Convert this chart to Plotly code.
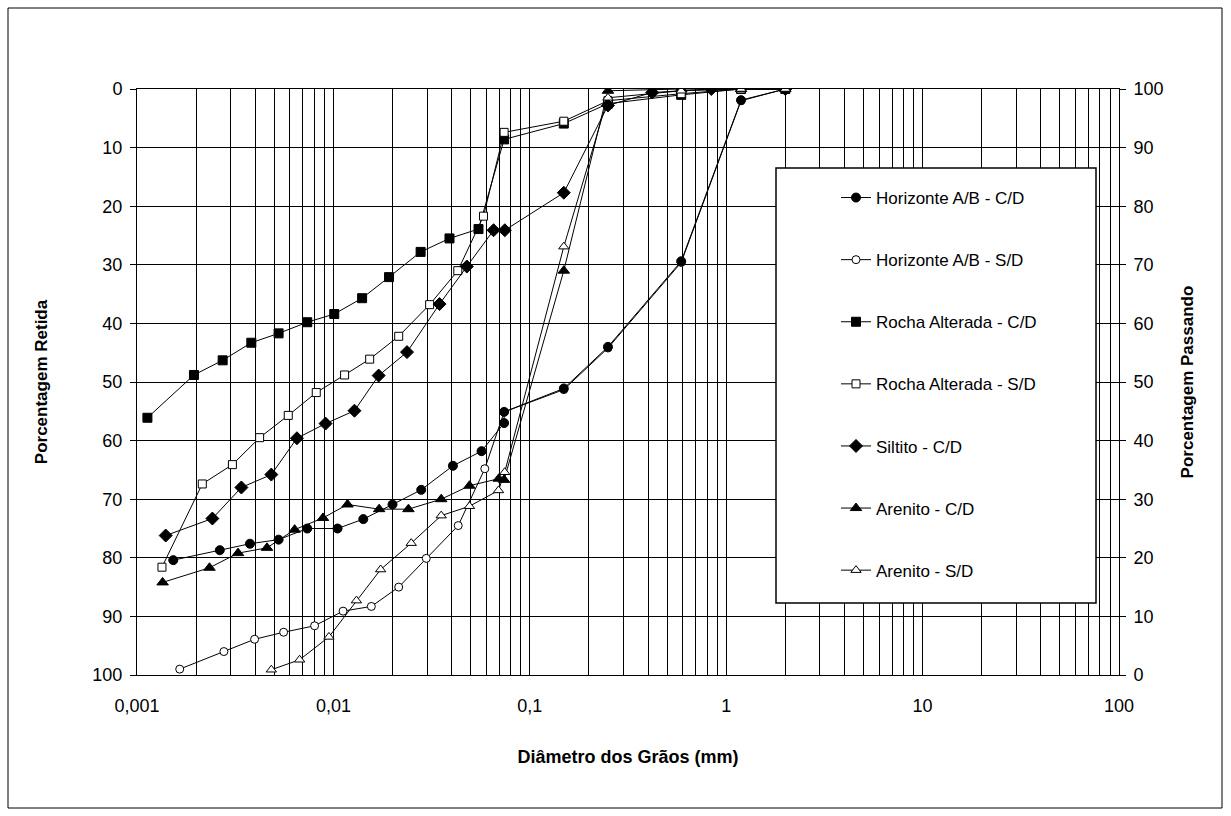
import plotly.graph_objects as go

# ---------------- data ----------------
hor_cd_x = [0.00153, 0.00264, 0.00376, 0.00526, 0.00736, 0.0105, 0.0142, 0.0200, 0.0280, 0.0406, 0.0568, 0.074, 0.074, 0.149, 0.25, 0.59, 1.19, 2.0]
hor_cd_y = [80.4, 78.7, 77.6, 76.9, 75.0, 75.0, 73.4, 70.9, 68.4, 64.3, 61.8, 57.0, 55.1, 51.1, 44.0, 29.4, 1.9, 0.0]

hor_sd_x = [0.00165, 0.00277, 0.00397, 0.00558, 0.00802, 0.0112, 0.0156, 0.0215, 0.0297, 0.0432, 0.059, 0.074, 0.149, 0.25, 0.59, 1.19, 2.0]
hor_sd_y = [99.0, 96.0, 93.9, 92.7, 91.6, 89.1, 88.3, 85.0, 80.1, 74.5, 64.8, 55.1, 51.3, 44.2, 29.6, 2.0, 0.0]

rocha_cd_x = [0.00113, 0.00195, 0.00273, 0.00382, 0.00526, 0.00736, 0.0101, 0.0140, 0.0192, 0.0278, 0.039, 0.0548, 0.074, 0.149, 0.25, 0.59, 1.19, 2.0]
rocha_cd_y = [56.1, 48.8, 46.3, 43.3, 41.7, 39.8, 38.4, 35.7, 32.1, 27.8, 25.5, 23.9, 8.6, 5.9, 2.5, 1.0, 0.0, 0.0]

rocha_sd_x = [0.00134, 0.00215, 0.00306, 0.00421, 0.00589, 0.00818, 0.0114, 0.0153, 0.0215, 0.0309, 0.0430, 0.0581, 0.074, 0.149, 0.25, 0.59, 1.19, 2.0]
rocha_sd_y = [81.6, 67.4, 64.1, 59.5, 55.7, 51.8, 48.8, 46.1, 42.2, 36.8, 31.0, 21.7, 7.4, 5.5, 2.0, 0.8, 0.0, 0.0]

siltito_x = [0.00140, 0.00242, 0.00340, 0.00483, 0.00652, 0.00912, 0.0128, 0.0170, 0.0237, 0.0347, 0.0478, 0.0654, 0.0746, 0.149, 0.25, 0.42, 0.84, 2.0]
siltito_y = [76.2, 73.3, 68.0, 65.8, 59.6, 57.1, 54.9, 48.9, 44.9, 36.7, 30.3, 24.1, 24.1, 17.7, 2.8, 0.6, 0.0, 0.0]

arenito_cd_x = [0.00135, 0.00234, 0.00327, 0.00459, 0.00635, 0.00885, 0.0118, 0.0171, 0.0241, 0.0354, 0.0493, 0.0695, 0.074, 0.149, 0.25, 0.59, 1.19, 2.0]
arenito_cd_y = [84.2, 81.7, 79.2, 78.3, 75.2, 73.2, 70.9, 71.7, 71.7, 70.0, 67.7, 66.5, 66.7, 31.0, 0.3, 0.0, 0.0, 0.0]

arenito_sd_x = [0.00483, 0.00673, 0.00949, 0.0131, 0.0174, 0.0249, 0.0354, 0.0493, 0.0693, 0.0745, 0.149, 0.25, 0.59, 1.19, 2.0]
arenito_sd_y = [99.1, 97.4, 93.5, 87.3, 82.0, 77.5, 72.8, 71.2, 68.5, 65.4, 26.9, 1.5, 0.3, 0.0, 0.0]

x_tickvals = [0.001, 0.01, 0.1, 1, 10, 100]
x_ticktext = ["0,001", "0,01", "0,1", "1", "10", "100"]
minor_vals = [m * 10.0 ** e for e in range(-3, 2) for m in range(2, 10)]

FONT = "Arial, 'Liberation Sans', sans-serif"

fig = go.Figure()


def add(name, x, y, symbol, fill, size, rank):
    fig.add_trace(go.Scatter(
        x=x, y=y, name=name, mode="lines+markers",
        line=dict(color="black", width=1),
        marker=dict(symbol=symbol, size=size, color=fill,
                    line=dict(color="black", width=1)),
        legendgroup=name, legendrank=rank,
    ))


# drawing order (later on top); legend order controlled by legendrank
add("Horizonte A/B - S/D", hor_sd_x, hor_sd_y, "circle", "white", 8, 2)
add("Horizonte A/B - C/D", hor_cd_x, hor_cd_y, "circle", "black", 9, 1)
add("Rocha Alterada - C/D", rocha_cd_x, rocha_cd_y, "square", "black", 9, 3)
add("Rocha Alterada - S/D", rocha_sd_x, rocha_sd_y, "square", "white", 8, 4)
add("Siltito - C/D", siltito_x, siltito_y, "diamond", "black", 10, 5)
add("Arenito - C/D", arenito_cd_x, arenito_cd_y, "triangle-up", "black", 10, 6)
add("Arenito - S/D", arenito_sd_x, arenito_sd_y, "triangle-up", "white", 9, 7)

# empty trace so the secondary (right) axis is drawn
fig.add_trace(go.Scatter(x=[], y=[], yaxis="y2", showlegend=False,
                         hoverinfo="skip", mode="lines"))

# plot area: x 137..1119, y 89..675
L, R, T, B = 137, 1119, 89, 675
W, H = 1231, 816


def px(xp):
    return (xp - L) / (R - L)


def py(yp):
    return (B - yp) / (B - T)


fig.update_layout(
    width=W, height=H,
    margin=dict(l=L, r=W - R, t=T, b=H - B),
    paper_bgcolor="white", plot_bgcolor="white",
    font=dict(family=FONT, color="black", size=18),
    showlegend=True,
    legend=dict(
        x=px(836), xanchor="left", y=py(180), yanchor="top",
        bgcolor="rgba(0,0,0,0)", borderwidth=0,
        font=dict(size=17, family=FONT, color="black"),
        tracegroupgap=37,
    ),
    xaxis=dict(
        type="log", range=[-3, 2],
        tickvals=x_tickvals, ticktext=x_ticktext,
        ticks="", showgrid=True, gridcolor="black", gridwidth=1,
        minor=dict(tickvals=minor_vals, showgrid=True, gridcolor="black",
                   gridwidth=1, ticks=""),
        showline=True, linecolor="black", linewidth=1, mirror=True,
        tickfont=dict(size=18),
        ticklabelstandoff=14,
        title=dict(text="Diâmetro dos Grãos (mm)",
                   font=dict(size=18, weight="bold"), standoff=35),
        zeroline=False,
    ),
    yaxis=dict(
        range=[100, 0], tick0=0, dtick=10,
        ticks="outside", ticklen=6, tickcolor="black",
        showgrid=True, gridcolor="black", gridwidth=1,
        showline=True, linecolor="black", linewidth=1,
        tickfont=dict(size=18), ticklabelstandoff=4,
        title=dict(text="Porcentagem Retida",
                   font=dict(size=17, weight="bold"), standoff=40),
        zeroline=False,
    ),
    yaxis2=dict(
        overlaying="y", side="right", anchor="x",
        range=[0, 100], tick0=0, dtick=10,
        ticks="outside", ticklen=6, tickcolor="black",
        showgrid=False, showline=True, linecolor="black", linewidth=1,
        tickfont=dict(size=18), ticklabelstandoff=4,
        title=dict(text="Porcentagem Passando",
                   font=dict(size=17, weight="bold"), standoff=18),
        zeroline=False,
    ),
    shapes=[
        # outer chart frame
        dict(type="rect", xref="paper", yref="paper",
             x0=px(8), x1=px(1222), y0=py(808), y1=py(8),
             line=dict(color="black", width=1), fillcolor="rgba(0,0,0,0)",
             layer="below"),
        # legend box
        dict(type="rect", xref="paper", yref="paper",
             x0=px(776), x1=px(1096), y0=py(603), y1=py(168),
             line=dict(color="black", width=1.5), fillcolor="white",
             layer="above"),
    ],
)

fig.write_html("out.html")
